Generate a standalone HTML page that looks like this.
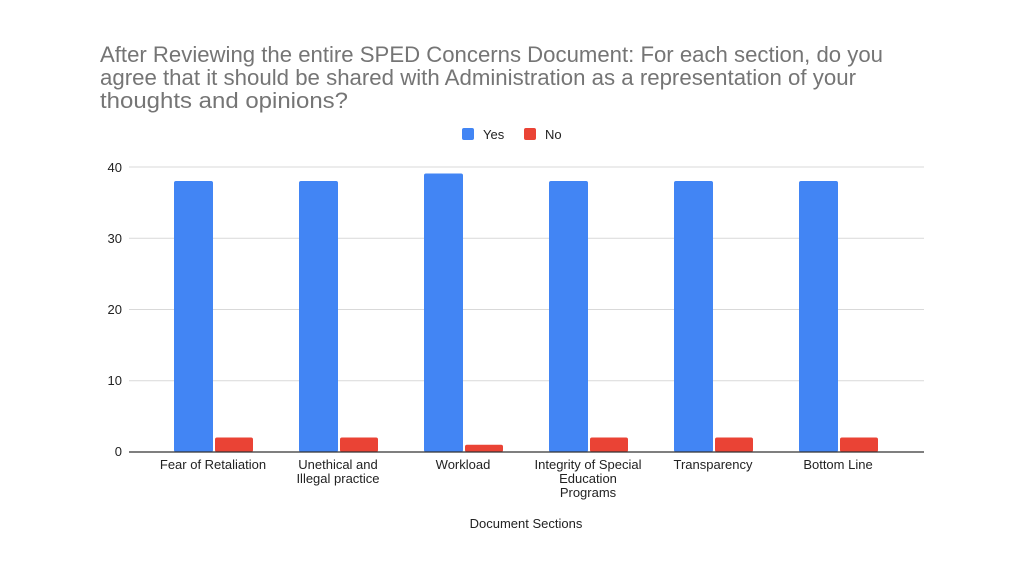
<!DOCTYPE html>
<html><head><meta charset="utf-8"><style>
body{margin:0;background:#fff;}
svg{display:block;font-family:"Liberation Sans",Arial,sans-serif;}
</style></head><body>
<svg width="1024" height="576" viewBox="0 0 1024 576">
<rect width="1024" height="576" fill="#fff"/>
<g font-size="22" fill="#757575">
<text x="100" y="62" textLength="783" lengthAdjust="spacingAndGlyphs">After Reviewing the entire SPED Concerns Document: For each section, do you</text>
<text x="100" y="85" textLength="756" lengthAdjust="spacingAndGlyphs">agree that it should be shared with Administration as a representation of your</text>
<text x="100" y="108" textLength="248" lengthAdjust="spacingAndGlyphs">thoughts and opinions?</text>
</g>
<rect x="462" y="128" width="12" height="12" rx="2" fill="#4285f4"/>
<text x="483" y="139" font-size="13" fill="#222">Yes</text>
<rect x="524" y="128" width="12" height="12" rx="2" fill="#ea4335"/>
<text x="545" y="139" font-size="13" fill="#222">No</text>
<g stroke="#d9d9d9" stroke-width="1">
<line x1="129" y1="167" x2="924" y2="167"/>
<line x1="129" y1="238.25" x2="924" y2="238.25"/>
<line x1="129" y1="309.5" x2="924" y2="309.5"/>
<line x1="129" y1="380.75" x2="924" y2="380.75"/>
</g>
<g font-size="13" fill="#222" text-anchor="end">
<text x="122" y="172">40</text>
<text x="122" y="243">30</text>
<text x="122" y="314">20</text>
<text x="122" y="385">10</text>
<text x="122" y="456">0</text>
</g>
<g fill="#4285f4">
<rect x="174" y="181" width="39" height="271" rx="2"/>
<rect x="299" y="181" width="39" height="271" rx="2"/>
<rect x="424" y="173.5" width="39" height="278.5" rx="2"/>
<rect x="549" y="181" width="39" height="271" rx="2"/>
<rect x="674" y="181" width="39" height="271" rx="2"/>
<rect x="799" y="181" width="39" height="271" rx="2"/>
</g>
<g fill="#ea4335">
<rect x="215" y="437.5" width="38" height="14.5" rx="2"/>
<rect x="340" y="437.5" width="38" height="14.5" rx="2"/>
<rect x="465" y="444.8" width="38" height="7.2" rx="2"/>
<rect x="590" y="437.5" width="38" height="14.5" rx="2"/>
<rect x="715" y="437.5" width="38" height="14.5" rx="2"/>
<rect x="840" y="437.5" width="38" height="14.5" rx="2"/>
</g>
<line x1="129" y1="452" x2="924" y2="452" stroke="#333" stroke-width="1.3"/>
<g font-size="13" fill="#222" text-anchor="middle">
<text x="213" y="469">Fear of Retaliation</text>
<text x="338" y="469">Unethical and</text>
<text x="338" y="483">Illegal practice</text>
<text x="463" y="469">Workload</text>
<text x="588" y="469">Integrity of Special</text>
<text x="588" y="483">Education</text>
<text x="588" y="497">Programs</text>
<text x="713" y="469">Transparency</text>
<text x="838" y="469">Bottom Line</text>
<text x="526" y="528">Document Sections</text>
</g>
</svg>
</body></html>
